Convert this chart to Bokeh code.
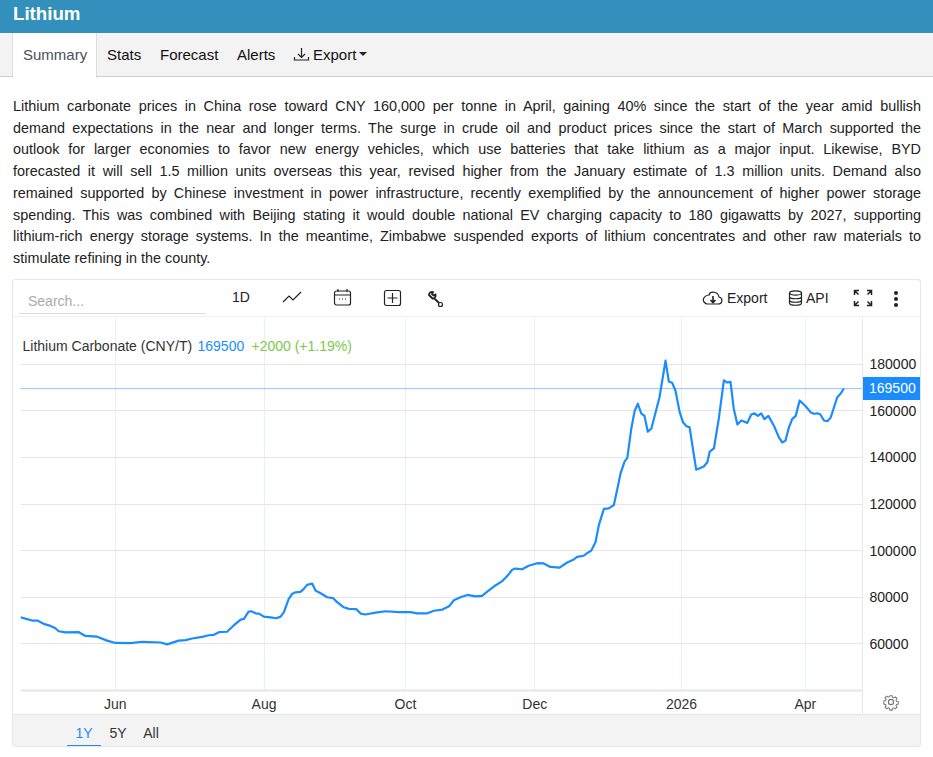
from bokeh.embed import file_html
from bokeh.layouts import column
from bokeh.models import ColumnDataSource, Div, FixedTicker, Label, LinearAxis, Range1d, Span
from bokeh.plotting import figure
from bokeh.resources import INLINE

## ----- DATA ----- ##
# the site uses an ordinal axis, so x is a trading session number and not a date
SESSIONS = [0, 2.2, 3.9, 5.6, 7.7, 10, 11.6, 12.7, 15, 19.4, 21.6, 25.5, 28.8, 31.6, 36.6, 40.5, 46.6, 48.8,
            52.6, 54.9, 57.1, 60.4, 62.6, 64.3, 66, 68.7, 70.9, 73.2, 74.3, 75.9, 76.7, 78.2, 79.3, 80.9,
            83.1, 85.1, 86.5, 87.6, 89.2, 90.4, 91.5, 93.1, 94.2, 95.3, 97, 98.1, 99.8, 102, 104, 105.3,
            107.5, 109.2, 111.7, 113.1, 114.7, 118.1, 121.4, 125.8, 129.7, 131.9, 135.3, 137.5, 140.3,
            142.5, 144.1, 146.3, 148.6, 151.3, 153.5, 155.2, 157.4, 160.2, 162, 163.5, 164.6, 166.8, 169,
            171.8, 174, 176.2, 179.3, 181.8, 184, 185.1, 187.3, 188.5, 189.8, 191.2, 192.3, 194, 195.6,
            197.3, 198.4, 199.5, 200.9, 201.8, 203.1, 204.2, 205.3, 206.4, 207.5, 208.6, 209.8, 212.5,
            214.5, 215.6, 216.7, 217.8, 219.2, 220.3, 221.4, 222.5, 224.7, 227.2, 228.4, 229.2, 230.6,
            232.2, 233.9, 235, 236.1, 237.2, 238.4, 239.7, 241.7, 243, 244.1, 245.2, 246.3, 247.4, 248.7,
            250.5, 252.2, 253.3, 254.4, 255.5, 256.6, 257.8, 259.1, 261.1, 262.7, 263.8, 265, 266, 267.2,
            268.3, 269.4, 271.6, 272.7, 273.8]
PRICES = [71400, 70600, 70000, 70000, 68600, 67700, 66700, 65400, 64900, 65000, 63400, 63100, 61400, 60400,
          60300, 60900, 60600, 59800, 61400, 61600, 62300, 63000, 63700, 63900, 65000, 65200, 67900, 70400,
          70700, 73900, 74000, 73100, 73000, 71700, 71400, 71000, 71700, 73600, 79300, 81500, 82100, 82300,
          83600, 85300, 85900, 82900, 81700, 80000, 79600, 77900, 75700, 75000, 74900, 73000, 72600, 73400,
          74000, 73600, 73600, 73100, 73100, 74200, 74700, 76100, 78700, 80000, 81000, 80400, 80600, 82400,
          84600, 86900, 89300, 91800, 92300, 92000, 93500, 94600, 94500, 93000, 92700, 94900, 96200, 97300,
          97800, 99000, 100000, 103600, 110800, 117900, 118100, 119500, 126000, 132900, 138300, 139800,
          152200, 159800, 163000, 158900, 157800, 151000, 152400, 165800, 181500, 172500, 172000, 168700,
          159400, 155100, 153400, 152900, 134700, 136100, 137900, 142500, 143900, 156500, 173000, 172100,
          172400, 160800, 154100, 155800, 154800, 158400, 158900, 157800, 158900, 156400, 157800, 153700,
          148600, 146400, 147200, 152700, 156400, 157800, 164400, 161900, 159400, 158700, 158900, 158400,
          155800, 155500, 157000, 165800, 167300, 169500]

X_TICKS = [31.5, 81, 128, 171, 219.8, 261]
X_LABELS = ["Jun", "Aug", "Oct", "Dec", "2026", "Apr"]
Y_TICKS = [60000, 80000, 100000, 120000, 140000, 160000, 180000]

LAST_PRICE = 169500
SERIES_NAME = "Lithium Carbonate (CNY/T)"
CHANGE_TEXT = "+2000 (+1.19%)"

TITLE = "Lithium"
TABS = [("Stats", 107), ("Forecast", 160), ("Alerts", 237)]
RANGES = [("1Y", 84), ("5Y", 118), ("All", 151)]
PARAGRAPH = [
    "Lithium carbonate prices in China rose toward CNY 160,000 per tonne in April, gaining 40% since the start of the year amid bullish",
    "demand expectations in the near and longer terms. The surge in crude oil and product prices since the start of March supported the",
    "outlook for larger economies to favor new energy vehicles, which use batteries that take lithium as a major input. Likewise, BYD",
    "forecasted it will sell 1.5 million units overseas this year, revised higher from the January estimate of 1.3 million units. Demand also",
    "remained supported by Chinese investment in power infrastructure, recently exemplified by the announcement of higher power storage",
    "spending. This was combined with Beijing stating it would double national EV charging capacity to 180 gigawatts by 2027, supporting",
    "lithium-rich energy storage systems. In the meantime, Zimbabwe suspended exports of lithium concentrates and other raw materials to",
    "stimulate refining in the county.",
]

## ----- STYLE ----- ##
FONT = "Liberation Sans"
BLUE = "#1a8cff"
GREEN = "#7cc84b"
BORDER = "#e6e6e6"
TEXT = "#333333"

Y_MIN, Y_MAX = 40000, 200000
FRAME_TOP, FRAME_BOTTOM = 317, 690
STRIP_TOP = 714


def put(x, y, html, extra=""):
    return f'<div style="position:absolute;left:{x}px;top:{y}px;white-space:nowrap;{extra}">{html}</div>'


def icon(x, y, w, h, body, colour="#222"):
    return (f'<svg style="position:absolute;left:{x}px;top:{y}px" width="{w}" height="{h}" viewBox="0 0 {w} {h}" '
            f'fill="none" stroke="{colour}" stroke-width="1.2">{body}</svg>')


## ----- TOP OF THE PAGE ----- ##
top = put(0, 0, "", "width:933px;height:33px;background:#338fbb")
top += put(13, 2, TITLE, "color:#fff;font-weight:bold;font-size:18.7px;line-height:24px")
top += put(0, 33, "", "width:933px;height:44px;background:#f3f3f3;border-bottom:1px solid #cfcfcf")
top += put(12, 33, "", "width:85px;height:45px;background:#fff;border-left:1px solid #ddd;border-right:1px solid #ddd")
top += put(23, 45, "Summary", "color:#495057;font-size:15px;line-height:20px")
for name, x in TABS:
    top += put(x, 45, name, "color:#111;font-size:15px;line-height:20px")
top += icon(293, 46, 17, 16, '<path d="M8.5 2V11M5 8l3.5 3.5L12 8M1.5 11v3h14v-3"/>')
top += put(313, 45, "Export", "color:#111;font-size:15px;line-height:20px")
top += put(359, 52, "", "width:0;height:0;border-left:4.5px solid transparent;border-right:4.5px solid transparent;border-top:4.5px solid #222")

for i, line in enumerate(PARAGRAPH):
    align = "justify" if i < len(PARAGRAPH) - 1 else "left"
    top += put(13, 96 + i * 21.7, line,
               f"width:908px;white-space:normal;text-align:justify;text-align-last:{align};"
               "color:#222;font-size:14.4px;line-height:21px")

# frame of the chart panel and its toolbar
top += put(12, 279, "", "width:909px;height:38px;border:1px solid #e6e6e6;border-bottom:none;border-radius:3px 3px 0 0")
top += put(13, 316, "", "width:907px;height:1px;background:#f0f0f0")
top += put(28, 292, "Search...", "color:#aaa;font-size:14px;line-height:18px")
top += put(19, 313, "", "width:187px;height:1px;background:#ddd")
top += put(232, 288, "1D", "color:#222;font-size:14px;line-height:18px")
top += icon(282, 290, 20, 14, '<path d="M1 12L7 6l4 4 8-8"/>')
top += icon(333, 288, 19, 18, '<rect x="1.5" y="3" width="16" height="14" rx="2"/><path d="M1.5 7h16M5 1v3M14 1v3M6 11h1M9 11h1M12 11h1"/>')
top += icon(383, 289, 19, 18, '<rect x="1.5" y="1.5" width="16" height="15" rx="2"/><path d="M9.5 4v10M4.5 9h10"/>')
top += icon(426, 290, 18, 18, '<path d="M3 5 a3 3 0 0 1 4-3l-1 2 1.5 1.5 2-1a3 3 0 0 1-3 4zM8 8l5 5" stroke-width="1.8"/><circle cx="14.5" cy="14.5" r="2"/>')
top += icon(702, 290, 21, 16, '<path d="M5 14h11c5 0 5-6 1-7C16 1 8 1 7 5 3 5 0 9 2 12c1 1 2 2 3 2z"/><path d="M11 6v6M8.5 10l2.5 2.5 2.5-2.5" stroke-width="1.6"/>')
top += put(727, 289, "Export", "color:#222;font-size:14px;line-height:18px")
top += icon(788, 290, 15, 16, '<ellipse cx="7.5" cy="3" rx="6" ry="2.2"/><path d="M1.5 3v10c0 3 12 3 12 0V3M1.5 6.5c0 3 12 3 12 0M1.5 10c0 3 12 3 12 0"/>')
top += put(806, 289, "API", "color:#222;font-size:14px;line-height:18px")
top += icon(853, 289, 20, 18, '<path d="M1.5 6V1.5H6M1.5 1.5l4 4M18.5 6V1.5H14M18.5 1.5l-4 4M1.5 12v4.5H6M1.5 16.5l4-4M18.5 12v4.5H14M18.5 16.5l-4-4" stroke-width="1.5"/>')
for dy in (291, 297, 303):
    top += put(894, dy, "", "width:4px;height:4px;border-radius:2px;background:#222")

head = Div(text=top, width=933, height=FRAME_TOP, margin=0,
           styles={"font-family": FONT, "position": "relative", "overflow": "hidden"})

## ----- THE CHART ----- ##
source = ColumnDataSource(data=dict(session=SESSIONS, price=PRICES))

p = figure(width=933, height=STRIP_TOP - FRAME_TOP, output_backend="svg", toolbar_location=None,
           x_range=Range1d(0, 280), y_range=Range1d(Y_MIN, Y_MAX), y_axis_location=None,
           min_border_left=20, min_border_right=71, min_border_top=0, min_border_bottom=STRIP_TOP - FRAME_BOTTOM,
           background_fill_color="white", border_fill_color="white", outline_line_color=None,
           margin=0)

p.line(x="session", y="price", source=source, line_color=BLUE, line_width=2.2, line_join="round")

p.xaxis.ticker = FixedTicker(ticks=X_TICKS)
p.xaxis.major_label_overrides = dict(zip(X_TICKS, X_LABELS))
p.xaxis.major_label_text_font = FONT
p.xaxis.major_label_text_font_size = "14px"
p.xaxis.major_label_text_color = TEXT
p.xaxis.major_label_standoff = 5
p.xaxis.major_tick_line_color = None
p.xaxis.major_tick_out = 0
p.xaxis.minor_tick_line_color = None
p.xaxis.minor_tick_out = 0
p.xaxis.axis_line_color = BORDER
p.xaxis.axis_line_width = 2

y_axis = LinearAxis(ticker=FixedTicker(ticks=Y_TICKS))
y_axis.major_label_text_font = FONT
y_axis.major_label_text_font_size = "14px"
y_axis.major_label_text_color = "#222222"
y_axis.major_label_standoff = 7
y_axis.major_tick_line_color = None
y_axis.major_tick_out = 0
y_axis.minor_tick_line_color = None
y_axis.minor_tick_out = 0
y_axis.axis_line_color = BORDER
y_axis.formatter.use_scientific = False
p.add_layout(y_axis, "right")

p.xgrid.ticker = FixedTicker(ticks=X_TICKS)
p.xgrid.grid_line_color = "#e8f1f4"
p.ygrid[0].ticker = FixedTicker(ticks=Y_TICKS)
p.ygrid.grid_line_color = BORDER

p.add_layout(Span(location=LAST_PRICE, dimension="width", line_color=BLUE, line_width=1, line_dash=[1, 1]))

p.add_layout(Label(x=22, y=28, x_units="canvas", y_units="canvas", text=SERIES_NAME, text_font=FONT,
                   text_font_size="14px", text_color=TEXT, text_baseline="middle"))
p.add_layout(Label(x=197, y=28, x_units="canvas", y_units="canvas", text=str(LAST_PRICE), text_font=FONT,
                   text_font_size="14px", text_color=BLUE, text_baseline="middle"))
p.add_layout(Label(x=251, y=28, x_units="canvas", y_units="canvas", text=CHANGE_TEXT, text_font=FONT,
                   text_font_size="14px", text_color=GREEN, text_baseline="middle"))

## ----- BOTTOM STRIP ----- ##
# annotations get clipped to the plot frame, so whatever sits beside it hangs off this div instead
bottom = put(12, 0, "", "width:909px;height:33px;background:#f3f3f3;border:1px solid #e6e6e6;border-radius:0 0 3px 3px")
for name, x in RANGES:
    colour = BLUE if name == "1Y" else TEXT
    bottom += put(x - 20, 10, name, f"width:40px;text-align:center;color:{colour};font-size:14px;line-height:18px")
bottom += put(67, 31, "", f"width:34px;height:1px;background:{BLUE}")

side = FRAME_TOP - STRIP_TOP
for x in (12, 920):
    bottom += put(x, side, "", f"width:1px;height:{-side}px;background:{BORDER}")
bottom += put(862, FRAME_BOTTOM - STRIP_TOP, "", f"width:1px;height:{STRIP_TOP - FRAME_BOTTOM}px;background:{BORDER}")

tag_centre = FRAME_TOP + (Y_MAX - LAST_PRICE) / (Y_MAX - Y_MIN) * (FRAME_BOTTOM - FRAME_TOP)
bottom += put(863, tag_centre - 11 - STRIP_TOP, str(LAST_PRICE),
              f"width:57px;height:23px;padding-left:6px;box-sizing:border-box;background:{BLUE};"
              "color:#fff;font-size:14px;line-height:23px")
bottom += icon(882, 693 - STRIP_TOP, 18, 18,
               '<circle cx="9" cy="9" r="2.6"/><path d="M7.6 1.5h2.8l.4 2.1 1.4.6 1.8-1.2 2 2-1.2 1.8.6 1.4 2.1.4v2.8l-2.1.4-.6 1.4 1.2 1.8-2 2-1.8-1.2-1.4.6-.4 2.1H7.6l-.4-2.1-1.4-.6-1.8 1.2-2-2 1.2-1.8-.6-1.4-2.1-.4V7.6l2.1-.4.6-1.4L1.8 4l2-2 1.8 1.2 1.4-.6z" transform="translate(1.4 1.4) scale(.85)"/>',
               colour="#777")

foot = Div(text=bottom, width=933, height=757 - STRIP_TOP, margin=0,
           styles={"font-family": FONT, "position": "relative"})

page = column(head, p, foot, spacing=0, margin=0, width=933, height=757,
              styles={"position": "absolute", "left": "0", "top": "0"})

open("out.html", "w").write(file_html(page, INLINE))
